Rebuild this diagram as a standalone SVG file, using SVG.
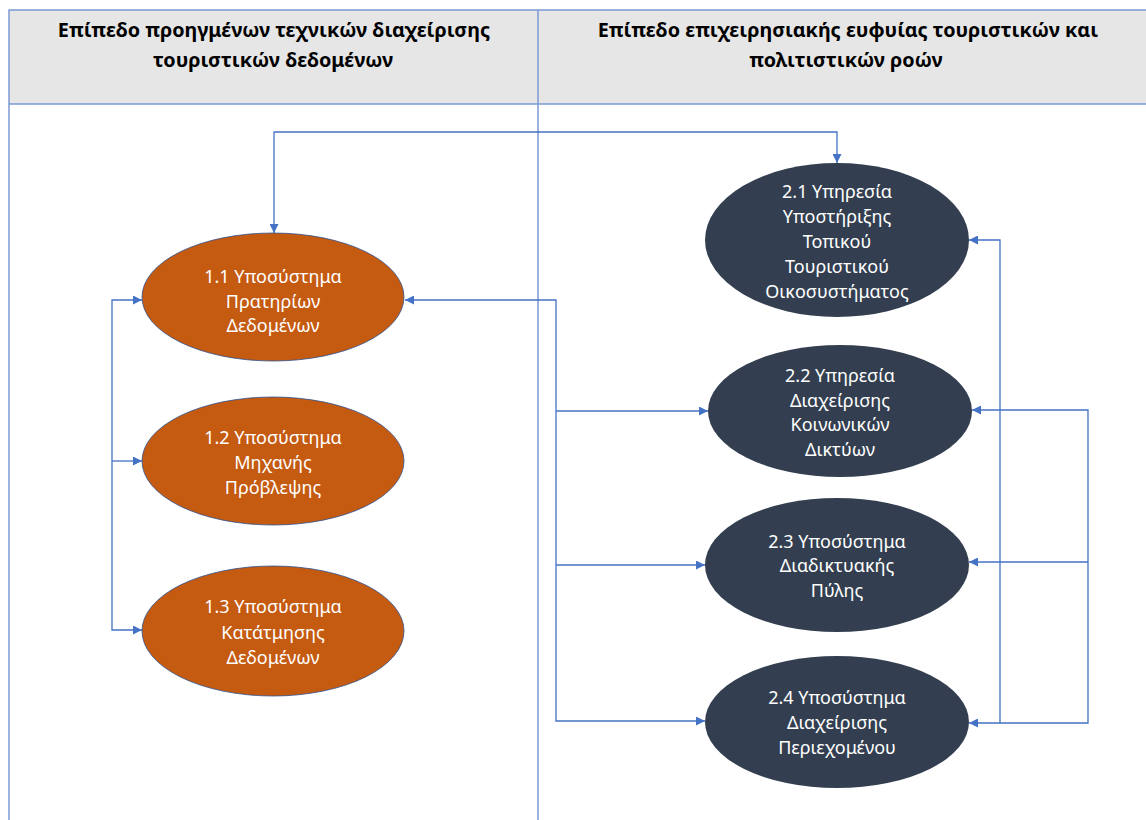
<svg xmlns="http://www.w3.org/2000/svg" width="1146" height="820" viewBox="0 0 1146 820">
<style>
.hdr{font-family:"Noto Sans","Open Sans","Liberation Sans",sans-serif;font-weight:bold;font-size:19.8px;fill:#000;text-anchor:middle}
.lbl{font-family:"Noto Sans","Open Sans","Liberation Sans",sans-serif;font-size:18px;fill:#fff;text-anchor:middle}
.orange{fill:#c55a11;stroke:#2f528f;stroke-width:0.8}
.dark{fill:#333f50}
.grid{stroke:#7c9bd6;stroke-width:1.5;fill:none}
.conn{stroke:#4472c4;stroke-width:1.3;fill:none}
</style>
<defs>
<marker id="ah" viewBox="0 0 10 10" refX="10" refY="5" markerWidth="9" markerHeight="9" markerUnits="userSpaceOnUse" orient="auto-start-reverse">
<path d="M0,0 L10,5 L0,10 z" fill="#4472c4"/>
</marker>
</defs>
<rect width="1146" height="820" fill="#fff"/>
<g id="table">
<rect x="9" y="10" width="1140" height="94" fill="#e6e6e6"/>
<path class="grid" d="M9,820 V10 H1146 M9,104 H1146 M538,10 V820"/>
<text class="hdr" x="274" y="37">Επίπεδο προηγμένων τεχνικών διαχείρισης</text>
<text class="hdr" x="273" y="67">τουριστικών δεδομένων</text>
<text class="hdr" x="848" y="37">Επίπεδο επιχειρησιακής ευφυίας τουριστικών και</text>
<text class="hdr" x="846" y="67">πολιτιστικών ροών</text>
</g>
<g id="connectors">
<path class="conn" d="M837,163 V132 H274 V233" marker-start="url(#ah)" marker-end="url(#ah)"/>
<path class="conn" d="M142,300 H112 V630 H142" marker-start="url(#ah)" marker-end="url(#ah)"/>
<path class="conn" d="M112,461 H142" marker-end="url(#ah)"/>
<path class="conn" d="M405,300 H556 V721 H705" marker-start="url(#ah)" marker-end="url(#ah)"/>
<path class="conn" d="M556,411 H708" marker-end="url(#ah)"/>
<path class="conn" d="M556,565 H705" marker-end="url(#ah)"/>
<path class="conn" d="M969,240 H1000 V723" marker-start="url(#ah)"/>
<path class="conn" d="M972,410 H1088 V723 H969" marker-start="url(#ah)" marker-end="url(#ah)"/>
<path class="conn" d="M1088,562 H969" marker-end="url(#ah)"/>
</g>
<g id="n11">
<ellipse class="orange" cx="273" cy="297" rx="131" ry="64"/>
<text class="lbl" x="273" y="283">1.1 Υποσύστημα</text>
<text class="lbl" x="273" y="308">Πρατηρίων</text>
<text class="lbl" x="273" y="332">Δεδομένων</text>
</g>
<g id="n12">
<ellipse class="orange" cx="273" cy="461" rx="131" ry="64"/>
<text class="lbl" x="273" y="444">1.2 Υποσύστημα</text>
<text class="lbl" x="273" y="469">Μηχανής</text>
<text class="lbl" x="273" y="494">Πρόβλεψης</text>
</g>
<g id="n13">
<ellipse class="orange" cx="273" cy="631" rx="131" ry="65"/>
<text class="lbl" x="273" y="613">1.3 Υποσύστημα</text>
<text class="lbl" x="273" y="639">Κατάτμησης</text>
<text class="lbl" x="273" y="664">Δεδομένων</text>
</g>
<g id="n21">
<ellipse class="dark" cx="837" cy="240" rx="132" ry="77"/>
<text class="lbl" x="837" y="198">2.1 Υπηρεσία</text>
<text class="lbl" x="837" y="223">Υποστήριξης</text>
<text class="lbl" x="837" y="248">Τοπικού</text>
<text class="lbl" x="837" y="273">Τουριστικού</text>
<text class="lbl" x="837" y="298">Οικοσυστήματος</text>
</g>
<g id="n22">
<ellipse class="dark" cx="840" cy="411" rx="132" ry="66"/>
<text class="lbl" x="840" y="382">2.2 Υπηρεσία</text>
<text class="lbl" x="840" y="407">Διαχείρισης</text>
<text class="lbl" x="840" y="431">Κοινωνικών</text>
<text class="lbl" x="840" y="456">Δικτύων</text>
</g>
<g id="n23">
<ellipse class="dark" cx="837" cy="565" rx="132" ry="67"/>
<text class="lbl" x="837" y="548">2.3 Υποσύστημα</text>
<text class="lbl" x="837" y="572">Διαδικτυακής</text>
<text class="lbl" x="837" y="597">Πύλης</text>
</g>
<g id="n24">
<ellipse class="dark" cx="837" cy="722" rx="132" ry="66"/>
<text class="lbl" x="837" y="704">2.4 Υποσύστημα</text>
<text class="lbl" x="837" y="729">Διαχείρισης</text>
<text class="lbl" x="837" y="754">Περιεχομένου</text>
</g>
</svg>
